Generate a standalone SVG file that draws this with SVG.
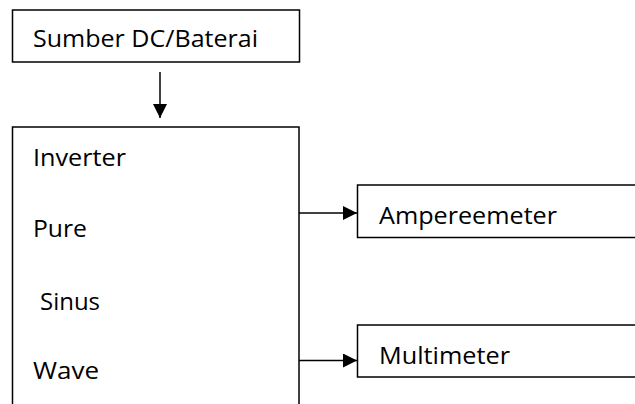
<svg xmlns="http://www.w3.org/2000/svg" width="635" height="404" viewBox="0 0 635 404">
  <style>
    .box { fill: #ffffff; stroke: #000000; stroke-width: 1.5; }
    .lbl { font-family: "Open Sans", "Noto Sans", "Liberation Sans", sans-serif; font-size: 23px; fill: #000000; }
    .wire { fill: none; stroke: #000000; stroke-width: 1.5; }
  </style>
  <defs>
    <marker id="arrowL" viewBox="0 0 14 14" refX="14" refY="7" markerWidth="14" markerHeight="14" markerUnits="userSpaceOnUse" orient="auto">
      <path d="M0,0 L14,7 L0,14 Z" fill="#000000"/>
    </marker>
  </defs>

  <rect width="635" height="404" fill="#ffffff"/>

  <g id="sumber">
    <rect class="box" x="12.5" y="10" width="287" height="52"/>
    <text class="lbl" x="33" y="47" textLength="225" lengthAdjust="spacingAndGlyphs">Sumber DC/Baterai</text>
  </g>

  <g id="inverter">
    <rect class="box" x="12.5" y="127" width="286.5" height="300"/>
    <text class="lbl" x="33" y="166" textLength="93" lengthAdjust="spacingAndGlyphs">Inverter</text>
    <text class="lbl" x="33" y="237" textLength="54" lengthAdjust="spacingAndGlyphs">Pure</text>
    <text class="lbl" x="40" y="310" textLength="60" lengthAdjust="spacingAndGlyphs">Sinus</text>
    <text class="lbl" x="33" y="379" textLength="66" lengthAdjust="spacingAndGlyphs">Wave</text>
  </g>

  <g id="ampereemeter">
    <rect class="box" x="357.5" y="185" width="290" height="52.5"/>
    <text class="lbl" x="379" y="224" textLength="178" lengthAdjust="spacingAndGlyphs">Ampereemeter</text>
  </g>

  <g id="multimeter">
    <rect class="box" x="357.5" y="325" width="290" height="52"/>
    <text class="lbl" x="379" y="364" textLength="131" lengthAdjust="spacingAndGlyphs">Multimeter</text>
  </g>

  <g id="connectors">
    <line class="wire" x1="160" y1="72" x2="160" y2="118" marker-end="url(#arrowL)"/>
    <line class="wire" x1="299" y1="213" x2="357" y2="213" marker-end="url(#arrowL)"/>
    <line class="wire" x1="299" y1="360.5" x2="357" y2="360.5" marker-end="url(#arrowL)"/>
  </g>
</svg>
